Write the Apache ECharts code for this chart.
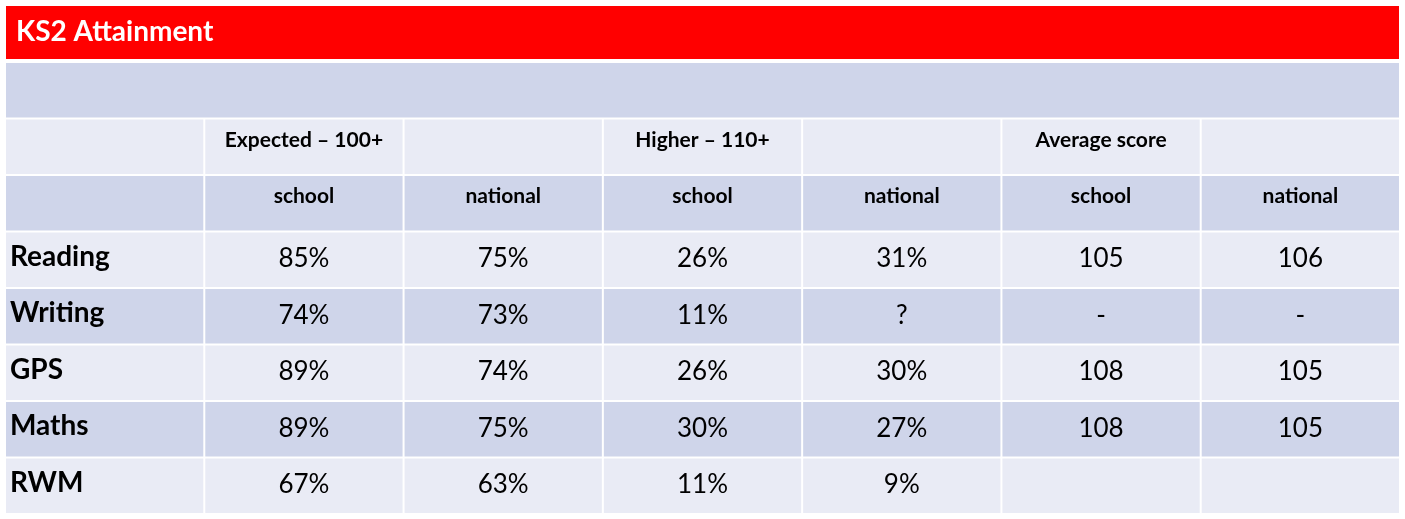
<!DOCTYPE html>
<html>
<head>
<meta charset="utf-8">
<script src="https://cdn.jsdelivr.net/npm/echarts@6/dist/echarts.min.js"></script>
<style>
html,body{margin:0;padding:0;background:#fff;}
#chart{width:1405px;height:519px;}
</style>
</head>
<body>
<div id="chart"></div>
<script>
const titleText = 'KS2 Attainment';
const groupHeaders = ['Expected – 100+', 'Higher – 110+', 'Average score'];
const subHeaders = ['school', 'national'];
const subjects = ['Reading', 'Writing', 'GPS', 'Maths', 'RWM'];
const expectedSchool = ['85%', '74%', '89%', '89%', '67%'];
const expectedNational = ['75%', '73%', '74%', '75%', '63%'];
const higherSchool = ['26%', '11%', '26%', '30%', '11%'];
const higherNational = ['31%', '?', '30%', '27%', '9%'];
const averageSchool = ['105', '-', '108', '108', ''];
const averageNational = ['106', '-', '105', '105', ''];

const DARK = '#CFD5EA', LIGHT = '#E9EBF5';
const FONT = 'Lato, "Open Sans", sans-serif';

const cellVals = [];
const cellInfo = [];
function add(col, row, span, text, kind) {
  cellVals.push([col, row, span]);
  cellInfo.push({ text: text, kind: kind });
}
add(0, 0, 7, '', 'blank');
for (let c = 0; c < 7; c++) {
  const gi = (c - 1) / 2;
  add(c, 1, 1, (c >= 1 && (c - 1) % 2 === 0) ? groupHeaders[gi] : '', 'head');
  add(c, 2, 1, c >= 1 ? subHeaders[(c - 1) % 2] : '', 'head');
}
const columns = [expectedSchool, expectedNational, higherSchool, higherNational, averageSchool, averageNational];
subjects.forEach(function (s, i) {
  add(0, 3 + i, 1, s, 'label');
  columns.forEach(function (col, j) { add(1 + j, 3 + i, 1, col[i], 'value'); });
});

function renderItem(params, api) {
  const c = api.value(0), r = api.value(1), span = api.value(2);
  const p0 = api.coord([c, r]);
  const p1 = api.coord([c + span, r + 1]);
  const x = p0[0], y = p0[1], w = p1[0] - p0[0], h = p1[1] - p0[1];
  const info = cellInfo[params.dataIndex];
  const fill = (r % 2 === 0) ? DARK : LIGHT;
  const children = [{
    type: 'rect',
    shape: { x: x + 1, y: y + 1, width: w - 2, height: h - 2 },
    style: { fill: fill }
  }];
  if (info.text) {
    let ts;
    if (info.kind === 'head') {
      ts = { x: x + w / 2, y: y + h / 2 - 7, align: 'center', fontSize: 21, fontWeight: 'bold' };
    } else if (info.kind === 'label') {
      ts = { x: x + 5, y: y + h / 2 - 3, align: 'left', fontSize: 28, fontWeight: 'bold' };
    } else {
      ts = { x: x + w / 2, y: y + h / 2 - 1, align: 'center', fontSize: 26, fontWeight: 'normal' };
    }
    children.push({
      type: 'text',
      style: {
        text: info.text, x: ts.x, y: ts.y, textAlign: ts.align, textVerticalAlign: 'middle',
        fontFamily: FONT, fontSize: ts.fontSize, fontWeight: ts.fontWeight, fill: '#000'
      }
    });
  }
  return { type: 'group', children: children };
}

const chart = echarts.init(document.getElementById('chart'));
chart.setOption({
  backgroundColor: '#fff',
  animation: false,
  title: {
    text: titleText, left: 11, top: 13,
    textStyle: { color: '#fff', fontFamily: FONT, fontSize: 28, fontWeight: 'bold' }
  },
  graphic: [{
    type: 'rect', left: 6, top: 6, z: -1,
    shape: { width: 1393, height: 53 },
    style: { fill: '#FF0000' }
  }],
  grid: { left: 5, right: 5, top: 62, bottom: 5 },
  xAxis: { type: 'value', min: 0, max: 7, show: false },
  yAxis: { type: 'value', min: 0, max: 8, inverse: true, show: false },
  series: [{
    type: 'custom',
    renderItem: renderItem,
    data: cellVals,
    encode: { x: 0, y: 1 },
    silent: true
  }]
});
</script>
</body>
</html>
